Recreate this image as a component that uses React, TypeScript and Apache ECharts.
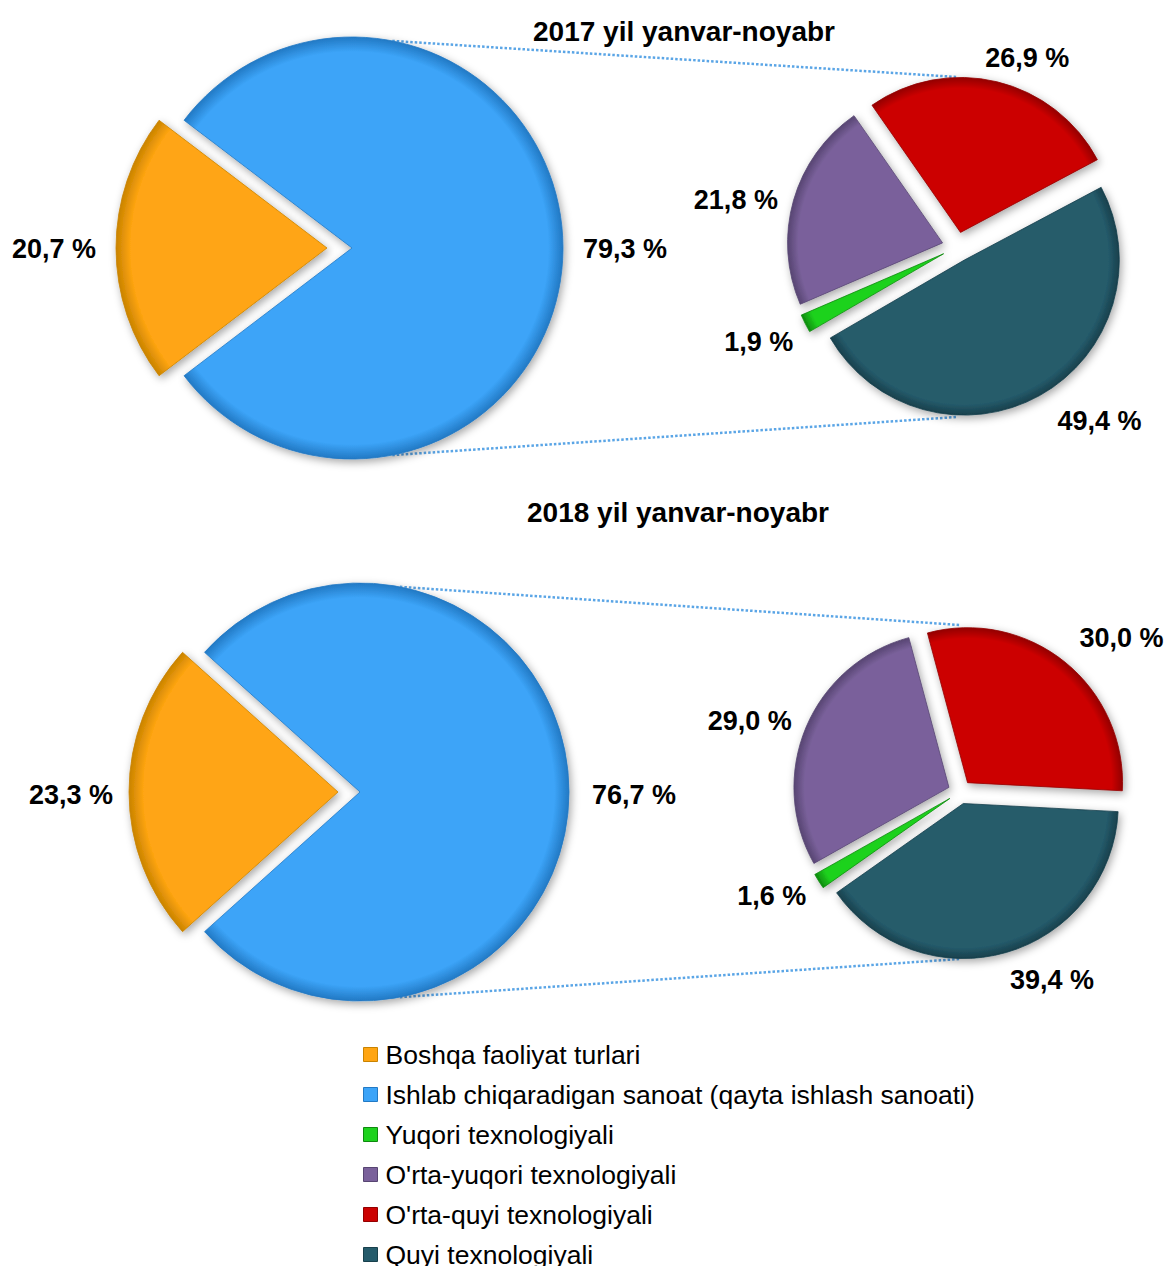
import React, { useEffect, useRef } from "react";
import * as echarts from "echarts";

// ---------- data ----------
const titles = ["2017 yil yanvar-noyabr", "2018 yil yanvar-noyabr"];
const bigCategories = [
  "Boshqa faoliyat turlari",
  "Ishlab chiqaradigan sanoat (qayta ishlash sanoati)",
];
const big2017 = [20.7, 79.3];
const big2018 = [23.3, 76.7];
const smallCategories = [
  "Quyi texnologiyali",
  "Yuqori texnologiyali",
  "O'rta-yuqori texnologiyali",
  "O'rta-quyi texnologiyali",
];
const small2017 = [49.4, 1.9, 21.8, 26.9];
const small2018 = [39.4, 1.6, 29.0, 30.0];
const legendOrder = [
  "Boshqa faoliyat turlari",
  "Ishlab chiqaradigan sanoat (qayta ishlash sanoati)",
  "Yuqori texnologiyali",
  "O'rta-yuqori texnologiyali",
  "O'rta-quyi texnologiyali",
  "Quyi texnologiyali",
];

// ---------- styles / layout ----------
const COLORS: Record<string, [string, string]> = {
  "Boshqa faoliyat turlari": ["#FFA512", "#C98300"],
  "Ishlab chiqaradigan sanoat (qayta ishlash sanoati)": ["#3CA4F8", "#2279C4"],
  "Yuqori texnologiyali": ["#1ED21E", "#0E8A0E"],
  "O'rta-yuqori texnologiyali": ["#7A619B", "#574572"],
  "O'rta-quyi texnologiyali": ["#CC0202", "#930000"],
  "Quyi texnologiyali": ["#255B6B", "#18404C"],
};
const FONT = "'Liberation Sans', Arial, sans-serif";

const BIG = [
  { c: [352, 248], r: 211, off: 25 },
  { c: [360, 792], r: 209, off: 22 },
];
const SMALL = [
  { c: [957, 247], r: 155, off: 15, start: 28 },
  { c: [960, 792], r: 155, off: 12, start: 357 },
];
// fine label nudges (px) per series, per data item
const LABEL_SHIFT: number[][][] = [
  [[0, 1], [0, 1]],
  [[2, 17], [8, 14], [5, 2], [-25, -14]],
  [[4, 3], [3, 3]],
  [[-10, 18], [7, 9], [6, -2], [-3, -16]],
];

const fmt = (v: number) => v.toFixed(1).replace(".", ",") + " %";

function item(name: string, value: number, selected: boolean, c: number[], r: number) {
  const [fill, rim] = COLORS[name];
  return {
    name,
    value,
    selected,
    itemStyle: {
      color: new echarts.graphic.RadialGradient(
        c[0],
        c[1],
        r,
        [
          { offset: 0, color: fill },
          { offset: 0.93, color: fill },
          { offset: 1, color: rim },
        ],
        true
      ),
      borderColor: rim,
      borderWidth: 0.8,
      shadowBlur: 8,
      shadowColor: "rgba(0,0,0,0.35)",
      shadowOffsetX: 2,
      shadowOffsetY: 3,
    },
  };
}

const labelStyle = {
  show: true,
  position: "outside",
  formatter: (p: any) => fmt(p.value),
  fontSize: 27,
  fontWeight: "bold",
  fontFamily: FONT,
  color: "#000",
  distanceToLabelLine: 5,
};

function shiftFor(seriesIdx: number) {
  return (p: any) => {
    const s = LABEL_SHIFT[seriesIdx][p.dataIndex] || [0, 0];
    return { dx: s[0], dy: s[1] };
  };
}

function bigSeries(vals: number[], idx: number, seriesIdx: number) {
  const L = BIG[idx];
  return {
    type: "pie",
    center: L.c,
    radius: L.r,
    startAngle: 180 + vals[0] * 1.8,
    clockwise: true,
    selectedMode: "single",
    selectedOffset: L.off,
    avoidLabelOverlap: false,
    label: labelStyle,
    labelLine: { show: false, length: 8, length2: 7 },
    labelLayout: shiftFor(seriesIdx),
    emphasis: { disabled: true },
    data: vals.map((v, i) => item(bigCategories[i], v, i === 0, L.c, L.r)),
  };
}

function smallSeries(vals: number[], idx: number, seriesIdx: number) {
  const L = SMALL[idx];
  return {
    type: "pie",
    center: L.c,
    radius: L.r,
    startAngle: L.start,
    clockwise: true,
    selectedMode: "multiple",
    selectedOffset: L.off,
    avoidLabelOverlap: false,
    label: labelStyle,
    labelLine: { show: false, length: 10, length2: 6 },
    labelLayout: shiftFor(seriesIdx),
    emphasis: { disabled: true },
    data: vals.map((v, i) => item(smallCategories[i], v, true, L.c, L.r)),
  };
}

function connectors() {
  const els: any[] = [];
  for (let k = 0; k < 2; k++) {
    const b = BIG[k];
    const s = SMALL[k];
    const a = (79 * Math.PI) / 180;
    const bx = b.c[0] + b.r * Math.cos(a);
    const dy = b.r * Math.sin(a);
    const sTop = s.c[1] - s.r - s.off;
    const sBot = s.c[1] + s.r + s.off;
    [
      [bx, b.c[1] - dy, s.c[0], sTop],
      [bx, b.c[1] + dy, s.c[0], sBot],
    ].forEach(([x1, y1, x2, y2]) =>
      els.push({
        type: "line",
        z: 0,
        shape: { x1, y1, x2, y2 },
        style: { stroke: "#5AA5E6", lineWidth: 2.5, lineDash: [2.5, 2] },
      })
    );
  }
  return els;
}

const titleStyle = { fontSize: 28, fontWeight: "bold", fontFamily: FONT, color: "#000" };

export default function App() {
  const ref = useRef<HTMLDivElement>(null);
  useEffect(() => {
    const chart = echarts.init(ref.current!, undefined, { renderer: "svg" });
    chart.setOption({
      animation: false,
      backgroundColor: "#fff",
      title: [
        { text: titles[0], left: 684, top: 17, padding: 0, textAlign: "center", textStyle: titleStyle },
        { text: titles[1], left: 678, top: 498, padding: 0, textAlign: "center", textStyle: titleStyle },
      ],
      legend: {
        orient: "vertical",
        left: 363,
        top: 1041,
        height: 260,
        padding: 0,
        itemWidth: 14,
        itemHeight: 14,
        itemGap: 13,
        icon: "rect",
        selectedMode: false,
        data: legendOrder.map((n) => ({
          name: n,
          itemStyle: { color: COLORS[n][0], borderColor: COLORS[n][1], borderWidth: 1 },
        })),
        textStyle: {
          fontSize: 26.5,
          fontFamily: FONT,
          color: "#000",
          lineHeight: 26,
          padding: [0, 0, 0, 3],
        },
      },
      graphic: connectors(),
      series: [
        bigSeries(big2017, 0, 0),
        smallSeries(small2017, 0, 1),
        bigSeries(big2018, 1, 2),
        smallSeries(small2018, 1, 3),
      ],
    });
    return () => chart.dispose();
  }, []);
  return (
    <div
      ref={ref}
      style={{ position: "fixed", left: 0, top: 0, width: 1165, height: 1266 }}
    />
  );
}
